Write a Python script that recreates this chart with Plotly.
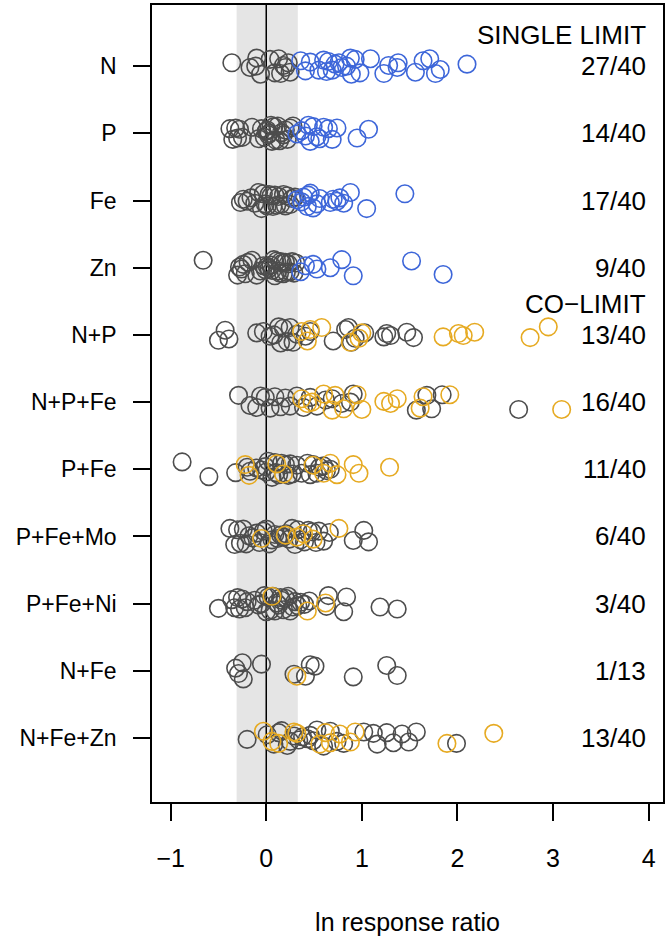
import plotly.graph_objects as go

# ---------------- data ----------------
CATEGORIES = ["N", "P", "Fe", "Zn", "N+P", "N+P+Fe", "P+Fe", "P+Fe+Mo",
              "P+Fe+Ni", "N+Fe", "N+Fe+Zn"]
FRACTIONS = ["27/40", "14/40", "17/40", "9/40", "13/40", "16/40", "11/40",
             "6/40", "3/40", "1/13", "13/40"]

# non-significant responses (grey) per category
GREY = {
    "N": [-0.36, -0.17, -0.11, -0.10, -0.06, 0.04, 0.09, 0.13, 0.15, 0.18, 0.20, 0.23, 0.25],
    "P": [-0.38, -0.35, -0.32, -0.30, -0.28, -0.25, -0.15, -0.08, -0.05, -0.02, 0.00, 0.01, 0.02,
          0.03, 0.05, 0.06, 0.08, 0.10, 0.12, 0.14, 0.16, 0.18, 0.20, 0.22, 0.25, 0.28],
    "Fe": [-0.27, -0.24, -0.20, -0.16, -0.12, -0.08, -0.05, -0.03, -0.01, 0.01, 0.03, 0.05,
           0.07, 0.09, 0.11, 0.13, 0.15, 0.18, 0.20, 0.22, 0.25, 0.27, 0.30],
    "Zn": [-0.66, -0.30, -0.28, -0.26, -0.24, -0.22, -0.19, -0.15, -0.10, -0.06, -0.03, -0.01,
           0.01, 0.03, 0.05, 0.06, 0.08, 0.09, 0.11, 0.12, 0.14, 0.15, 0.17, 0.18, 0.20, 0.21,
           0.23, 0.25, 0.27, 0.29, 0.31],
    "N+P": [-0.50, -0.43, -0.39, -0.10, -0.03, 0.04, 0.08, 0.13, 0.15, 0.18, 0.22, 0.25, 0.28,
            0.32, 0.41, 0.46, 0.70, 0.83, 0.86, 0.89, 0.93, 1.03, 1.23, 1.26, 1.30, 1.47, 1.54],
    "N+P+Fe": [-0.29, -0.17, -0.10, -0.06, -0.01, 0.04, 0.09, 0.15, 0.20, 0.25, 0.32, 0.39,
               0.46, 0.53, 0.62, 0.69, 0.79, 0.88, 0.91, 1.57, 1.68, 1.73, 1.84, 2.64],
    "P+Fe": [-0.88, -0.60, -0.32, -0.20, -0.17, -0.10, -0.05, -0.01, 0.00, 0.02, 0.06, 0.09,
             0.10, 0.13, 0.16, 0.20, 0.23, 0.25, 0.27, 0.32, 0.37, 0.43, 0.46, 0.49, 0.53,
             0.56, 0.60, 0.63, 0.67],
    "P+Fe+Mo": [-0.38, -0.33, -0.30, -0.27, -0.24, -0.21, -0.18, -0.14, -0.10, -0.07, -0.03,
                0.00, 0.03, 0.06, 0.09, 0.12, 0.15, 0.18, 0.21, 0.24, 0.27, 0.30, 0.33, 0.36,
                0.40, 0.44, 0.48, 0.52, 0.55, 0.60, 0.66, 0.91, 1.02, 1.07],
    "P+Fe+Ni": [-0.50, -0.36, -0.33, -0.30, -0.28, -0.25, -0.22, -0.20, -0.12, -0.08, -0.05,
                -0.02, 0.00, 0.02, 0.04, 0.07, 0.09, 0.11, 0.13, 0.16, 0.18, 0.20, 0.23, 0.25,
                0.28, 0.30, 0.33, 0.36, 0.40, 0.45, 0.63, 0.65, 0.81, 0.84, 1.19, 1.37, 0.15],
    "N+Fe": [-0.32, -0.29, -0.25, -0.24, -0.05, 0.29, 0.41, 0.46, 0.51, 0.91, 1.26, 1.37],
    "N+Fe+Zn": [-0.20, 0.01, 0.08, 0.13, 0.16, 0.22, 0.25, 0.29, 0.34, 0.38, 0.43, 0.46, 0.49,
                0.53, 0.60, 0.67, 0.74, 0.81, 1.02, 1.12, 1.16, 1.26, 1.33, 1.42, 1.49, 1.57, 1.99],
}
# single-limitation significant responses (blue)
SINGLE = {
    "N": [0.36, 0.41, 0.46, 0.55, 0.60, 0.63, 0.65, 0.69, 0.72, 0.76, 0.79, 0.84, 0.88, 0.89,
          0.93, 0.98, 1.09, 1.23, 1.28, 1.37, 1.38, 1.56, 1.64, 1.71, 1.77, 1.82, 2.10],
    "P": [0.32, 0.37, 0.41, 0.44, 0.46, 0.49, 0.53, 0.56, 0.60, 0.65, 0.69, 0.74, 0.95, 1.07],
    "Fe": [0.32, 0.37, 0.39, 0.43, 0.44, 0.46, 0.49, 0.53, 0.56, 0.67, 0.70, 0.74, 0.77, 0.81,
           0.88, 1.05, 1.45],
    "Zn": [0.36, 0.41, 0.49, 0.53, 0.67, 0.79, 0.91, 1.52, 1.85],
}
# co-limitation significant responses (gold)
CO = {
    "N+P": [0.37, 0.43, 0.46, 0.58, 0.88, 0.97, 1.00, 1.85, 2.01, 2.06, 2.18, 2.76, 2.95],
    "N+P+Fe": [0.37, 0.43, 0.48, 0.60, 0.69, 0.72, 0.81, 0.95, 1.00, 1.23, 1.30, 1.37, 1.61,
               1.64, 1.92, 3.09],
    "P+Fe": [-0.22, -0.18, 0.11, 0.18, 0.49, 0.60, 0.67, 0.74, 0.91, 0.97, 1.29],
    "P+Fe+Mo": [-0.05, 0.20, 0.32, 0.39, 0.49, 0.76],
    "P+Fe+Ni": [0.06, 0.43, 0.62],
    "N+Fe": [0.32],
    "N+Fe+Zn": [-0.03, 0.06, 0.13, 0.29, 0.32, 0.56, 0.62, 0.67, 0.77, 0.88, 0.93, 1.89, 2.38],
}
X_TICKS = [-1, 0, 1, 2, 3, 4]
BAND = (-0.31, 0.33)

# ---------------- styling ----------------
GREY_C = "#4D4D4D"
BLUE_C = "#3D66D9"
GOLD_C = "#E6AA22"
FONT = "Liberation Sans, Arial, Helvetica, sans-serif"
FS_Y = 23
FS_X = 25
FS_ANN = 26
HEAD_OFFSET = 0.46
JITTER = [0.05, -0.08, 0.11, -0.02, 0.09, -0.11, 0.00, 0.07, -0.05, 0.12,
          -0.09, 0.03, -0.12, 0.08, -0.03, 0.10, -0.07, 0.02, -0.10, 0.06,
          -0.01, 0.11, -0.06, 0.04, -0.11, 0.09, -0.04, 0.01, -0.08, 0.12,
          -0.02, 0.07, -0.12, 0.05, -0.06, 0.10, -0.09, 0.03, -0.05, 0.08]

n = len(CATEGORIES)
ypos = {c: n - i for i, c in enumerate(CATEGORIES)}

fig = go.Figure()


def add_group(groups, color, offset):
    xs, ys = [], []
    for r, cat in enumerate(CATEGORIES):
        vals = groups.get(cat, [])
        for i, v in enumerate(vals):
            xs.append(v)
            ys.append(ypos[cat] + JITTER[(i * 3 + r * 7 + offset) % len(JITTER)])
    fig.add_trace(go.Scatter(
        x=xs, y=ys, mode="markers", showlegend=False, hoverinfo="x",
        marker=dict(symbol="circle-open", size=17.5, color=color,
                    line=dict(width=1.6, color=color)),
    ))


add_group(GREY, GREY_C, 0)
add_group(SINGLE, BLUE_C, 13)
add_group(CO, GOLD_C, 5)

fig.add_shape(type="rect", xref="x", yref="paper", x0=BAND[0], x1=BAND[1], y0=0, y1=1,
              fillcolor="#E5E5E5", line=dict(width=0), layer="below")
fig.add_shape(type="line", xref="x", yref="paper", x0=0, x1=0, y0=0, y1=1,
              line=dict(color="black", width=1.5), layer="below")

for cat, frac in zip(CATEGORIES, FRACTIONS):
    fig.add_annotation(x=3.99, y=ypos[cat], text=frac, showarrow=False,
                       xanchor="right", yanchor="middle",
                       font=dict(family=FONT, size=FS_ANN, color="black"))
fig.add_annotation(x=3.99, y=ypos["N"] + HEAD_OFFSET, text="SINGLE LIMIT", showarrow=False,
                   xanchor="right", yanchor="middle",
                   font=dict(family=FONT, size=FS_ANN, color="black"))
fig.add_annotation(x=3.99, y=ypos["N+P"] + HEAD_OFFSET, text="CO\u2212LIMIT", showarrow=False,
                   xanchor="right", yanchor="middle",
                   font=dict(family=FONT, size=FS_ANN, color="black"))

fig.update_layout(
    width=669, height=936,
    margin=dict(l=152, r=6, t=5, b=134),
    paper_bgcolor="white", plot_bgcolor="white",
    font=dict(family=FONT, size=FS_Y, color="black"),
)
fig.update_xaxes(
    range=[-1.195, 4.15], tickvals=X_TICKS,
    ticktext=[("\u2212" + str(-t)) if t < 0 else str(t) for t in X_TICKS],
    tickfont=dict(family=FONT, size=FS_X),
    showgrid=False, zeroline=False, showline=True, mirror=True,
    linecolor="black", linewidth=1.5,
    ticks="outside", ticklen=17, tickwidth=1.5, tickcolor="black",
    ticklabelstandoff=16, automargin=False,
    title=dict(text="ln response ratio", standoff=46, font=dict(family=FONT, size=FS_X)),
)
fig.update_yaxes(
    range=[0.048, 11.91], tickvals=[ypos[c] for c in CATEGORIES], ticktext=CATEGORIES,
    tickfont=dict(family=FONT, size=FS_Y),
    showgrid=False, zeroline=False, showline=True, mirror=True,
    linecolor="black", linewidth=1.5,
    ticks="outside", ticklen=17, tickwidth=1.5, tickcolor="black",
    ticklabelstandoff=12, automargin=False,
)

fig.write_html("out.html")
